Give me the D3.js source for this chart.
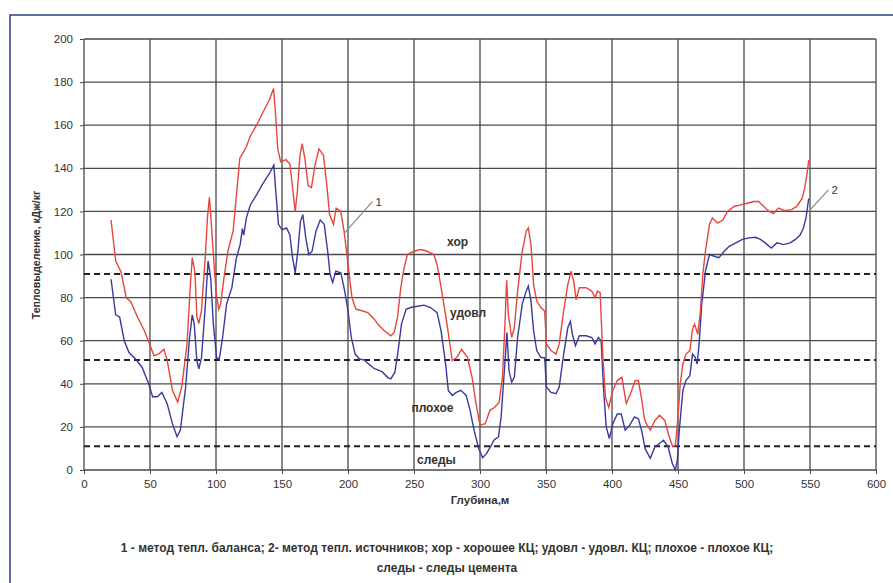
<!DOCTYPE html>
<html>
<head>
<meta charset="utf-8">
<script src="https://cdn.jsdelivr.net/npm/d3@7"></script>
<style>
  body { margin: 0; background: #fff; }
  text { font-family: "Liberation Sans", Arial, sans-serif; fill: #333; }
</style>
</head>
<body>
<svg id="chart" width="893" height="583"></svg>
<script>
// depth (m) and heat release (kJ/kg)
const redDepth = [20.5,24,28,32,35.5,40.5,45.5,50,53,57,60.5,63,67,71,74,78,80.5,82,84,85.5,87,89,92,93.5,95,96,98,100,102,103.5,106,109,113,116,118,121,123,126,130.7,135.6,140.6,143.6,145,146.8,149,153,156,158,160,161.6,163.6,165.3,167.3,169.8,172.3,175,178,181.4,184,186,189,191,194.5,197,200,203,206,210,215,220,222.5,227.5,232.5,235,237.5,240,242.5,245,250,255,260,265,267.5,271,275,279,282.5,286,290.5,294,297,300,304,307.5,311,314.5,317,319,320.2,321.5,324,326,328.5,332,335,336.6,338.6,340.6,343,346,349,350.3,353.8,357.6,360,363.4,366.5,369,371,372.8,375.3,380.4,384.7,387.2,389,391,393,395,397.5,400.6,404,407.5,410.8,414,417.6,420,422.7,424.5,426,429,432.5,436,440,443,446,448,450,451.7,453.7,456,459,461,462.5,465,467,468.8,470.8,473.8,476,480,484,487.5,492.5,497.5,502.5,507.5,511,515,519,522.5,526,531,536,540,544,546,548,549];
const redValue = [116,97,92,80,78,71,65,58,53,54,56,51,37,31.5,38.5,58,85,98.5,92,71,68,74,100,117,126.5,118.5,100,83,74.6,77,89,101.5,111,131,144.6,147.7,150,155,160,166,172,177,166,149,143,144,142,131,120,129,146,151.5,144.6,132,131,141.5,149,146,132,118.5,114,121.5,120,111,95.4,80,74.6,74,73,70,67.7,64.6,62.3,63.8,70.8,84.6,93.8,100,101.5,102.3,101.5,100,95.4,83,67.7,50.8,52.3,56,52.3,43,30.8,20.8,21.5,27.7,29,31.5,43,69,88,72,61.5,66,83,101.5,110.8,112.3,104.6,86,78.5,75.4,73.8,58.5,55.4,53.8,58.5,73.8,86,92.3,87.7,79,84.6,84.6,83,80,83,82.3,53.8,33.8,29,37,41.5,43,30.8,35.4,41.5,41.5,32,24,21.5,18.5,23,25.4,23,16,10.8,11.5,24.6,40,49.2,53.8,55.4,65.4,67.7,63,73.8,90.8,101.5,113.8,117,114.6,116,120,122.3,123,123.8,124.6,124.6,122.3,120,119,121.5,120.3,120.8,122.3,126,130.8,138.5,143.8];

const blueDepth = [20.5,24,27,30.5,34,39,44,49,52,55.5,59,63,67,70.5,73,77,80,82,83.5,85.5,87,89,92,94,96,98,100.5,102.5,105,108,112,115.5,118.3,120,121,123,126,130.7,135.6,140.6,143.8,145.5,147.3,150,153.5,156,158,160,162,164,165.8,168,170.3,172.8,175.7,179,182,184.6,186.4,188.4,190.8,194.6,197.5,200,202.5,205.4,208.7,212.4,216,220,222.5,226,230,232.5,235.5,238,240.5,244,247.5,252.5,257.5,262.5,267.5,270.5,274,276,279,282,285.5,289.5,292.5,295.5,299,302,305,308,310.5,314,316,319,320.4,322,324,326,328.5,332,335,336.6,338.6,340.6,343,346,349,350.3,353.8,357.6,360,363.4,366.5,368.5,370,372.3,375.3,380.4,384.7,387.2,389.7,391.8,393.5,395.6,398,400.6,404,407,410,413.5,417,420,422.7,425,429,432.5,436,439,442.5,445.7,448,449.5,451,453.7,456,459,461,463,464.5,466,468,470.8,473.8,477.5,481,485,488.8,493.8,498.8,503.8,508.8,512.5,516,520.7,525,530,535,539,542.5,545,547,549];
const blueValue = [88.5,72,71,60,54.6,51.5,47.7,40,34,34,36,30.8,21.5,15.4,18.5,38.5,61.5,72,67.7,50.8,47,52,77,97,89,67.7,52,51.5,61.5,77,84.6,98.5,104.6,112,109,117,123,127.7,133,137.7,141.5,127.7,114,111.5,112.3,109,98.5,91.5,101.5,115.4,118.5,107.7,100,101.5,110.8,116,114,101.5,90.8,87,92.3,91.5,83,73.8,61.5,53.8,51.5,51,49,47,46.5,45.5,43,42.3,45.4,55.4,67.7,74.6,75.4,76,76.5,75.4,73,64.6,49,36.9,34.6,36,37,34.6,27.7,18.5,10,5.7,7.7,10.8,13.8,15.4,24.6,50.8,63.8,46,40.8,43,61.5,77,83,85.4,78.5,64.6,55.4,52.3,52,38.5,36,35.4,38.5,53.8,66,69,63,57.7,62.3,62.3,61.5,58.5,61.5,60,38.5,20,14.6,21.5,26,26,18.5,20.8,24.6,23.8,17.7,10,5.4,10.8,12.3,13.8,10.8,3,0,4.6,18.5,37,41.5,43.8,53.8,52.3,49.2,58.5,77,92.3,100,99.2,98.5,101.5,103.8,105.4,107,107.7,108,107,105.4,103,105.4,104.6,105.4,107,109,112.3,117,126];

// cement quality thresholds and zone names
const levels = [91, 51, 11];
const zoneNames = ["хор", "удовл", "плохое", "следы"];
const zoneValues = [104, 71, 27, 3];
const zoneDepths = [283, 291, 264, 267];

const xTicks = d3.range(0, 601, 50);
const yTicks = d3.range(0, 201, 20);

const svg = d3.select("#chart");

svg.append("rect")
    .attr("x", 10).attr("y", 15)
    .attr("width", 900).attr("height", 600)
    .attr("fill", "#fff")
    .attr("stroke", "#2b3f7c")
    .attr("stroke-width", 1.5);

const x = d3.scaleLinear().domain([0, 600]).range([84, 876]);
const y = d3.scaleLinear().domain([0, 200]).range([470, 39]);

// grid
svg.append("g")
  .selectAll("line")
  .data(xTicks)
  .join("line")
    .attr("x1", d => x(d)).attr("x2", d => x(d))
    .attr("y1", y(200)).attr("y2", y(0))
    .attr("stroke", "#4a4a4a").attr("stroke-width", 1.3);

svg.append("g")
  .selectAll("line")
  .data(yTicks)
  .join("line")
    .attr("x1", x(0)).attr("x2", x(600))
    .attr("y1", d => y(d)).attr("y2", d => y(d))
    .attr("stroke", "#4a4a4a").attr("stroke-width", 1.3);

// axes
const xAxis = svg.append("g")
    .attr("transform", `translate(0,${y(0)})`)
    .call(d3.axisBottom(x).tickValues(xTicks).tickSize(4).tickPadding(6));
const yAxis = svg.append("g")
    .attr("transform", `translate(${x(0)},0)`)
    .call(d3.axisLeft(y).tickValues(yTicks).tickSize(4).tickPadding(7));
[xAxis, yAxis].forEach(g => {
  g.select(".domain").remove();
  g.selectAll("line").attr("stroke", "#4a4a4a");
  g.selectAll("text")
      .attr("font-family", "Liberation Sans, Arial, sans-serif")
      .attr("font-size", 11.5)
      .attr("fill", "#444");
});

// threshold dashed lines
svg.append("g")
  .selectAll("line")
  .data(levels)
  .join("line")
    .attr("x1", x(0)).attr("x2", x(600))
    .attr("y1", d => y(d)).attr("y2", d => y(d))
    .attr("stroke", "#222").attr("stroke-width", 2)
    .attr("stroke-dasharray", "6,4");

// curves
const line = d3.line()
    .x(d => x(d[0]))
    .y(d => y(d[1]));

svg.append("path")
    .datum(d3.zip(blueDepth, blueValue))
    .attr("fill", "none")
    .attr("stroke", "#3a3a9c")
    .attr("stroke-width", 1.4)
    .attr("d", line);

svg.append("path")
    .datum(d3.zip(redDepth, redValue))
    .attr("fill", "none")
    .attr("stroke", "#e8453c")
    .attr("stroke-width", 1.4)
    .attr("d", line);

// zone labels
svg.append("g")
  .selectAll("text")
  .data(zoneNames)
  .join("text")
    .attr("x", (d, i) => x(zoneDepths[i]))
    .attr("y", (d, i) => y(zoneValues[i]))
    .attr("text-anchor", "middle")
    .attr("font-size", 12)
    .attr("font-weight", "bold")
    .text(d => d);

// callouts 1 and 2
const callouts = [
  { label: "1", from: [197.5, 110], to: [218.5, 124.5] },
  { label: "2", from: [549, 120], to: [564, 130] }
];
callouts.forEach(c => {
  svg.append("line")
      .attr("x1", x(c.from[0])).attr("y1", y(c.from[1]))
      .attr("x2", x(c.to[0])).attr("y2", y(c.to[1]))
      .attr("stroke", "#888").attr("stroke-width", 1.2);
  svg.append("text")
      .attr("x", x(c.to[0]) + 3)
      .attr("y", y(c.to[1]) + 4)
      .attr("font-size", 11.5)
      .text(c.label);
});

// titles
svg.append("text")
    .attr("x", 480).attr("y", 504)
    .attr("text-anchor", "middle")
    .attr("font-size", 11.5)
    .attr("font-weight", "bold")
    .text("Глубина,м");

svg.append("text")
    .attr("transform", "translate(40,255) rotate(-90)")
    .attr("text-anchor", "middle")
    .attr("font-size", 10.5)
    .attr("font-weight", "bold")
    .text("Тепловыделение, кДж/кг");

svg.append("text")
    .attr("x", 447).attr("y", 552)
    .attr("text-anchor", "middle")
    .attr("font-size", 12)
    .attr("font-weight", "bold")
    .text("1 - метод тепл. баланса; 2- метод тепл. источников; хор - хорошее КЦ; удовл - удовл. КЦ; плохое - плохое КЦ;");

svg.append("text")
    .attr("x", 447).attr("y", 572)
    .attr("text-anchor", "middle")
    .attr("font-size", 12)
    .attr("font-weight", "bold")
    .text("следы - следы цемента");
</script>
</body>
</html>
